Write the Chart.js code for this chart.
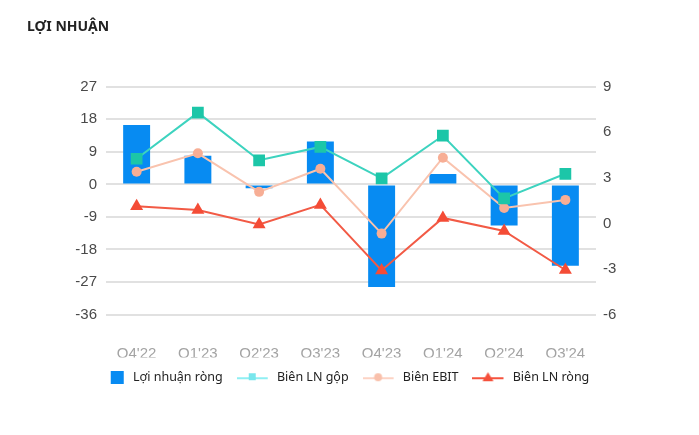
<!DOCTYPE html>
<html>
<head>
<meta charset="utf-8">
<script src="https://cdn.jsdelivr.net/npm/chart.js@4/dist/chart.umd.min.js"></script>
<style>
  html, body { margin: 0; padding: 0; background: #ffffff; }
  #wrap { width: 699px; height: 435px; position: relative; }
</style>
</head>
<body>
<div id="wrap"><canvas id="c" width="699" height="435"></canvas></div>
<script>
const categories = ["Q4'22", "Q1'23", "Q2'23", "Q3'23", "Q4'23", "Q1'24", "Q2'24", "Q3'24"];
const loiNhuanRong = [16.4, 7.9, -1.1, 11.9, -28.4, 2.9, -11.4, -22.5];
const bienLNGop = [4.26, 7.30, 4.16, 5.04, 2.97, 5.78, 1.65, 3.27];
const bienEBIT = [3.40, 4.62, 2.08, 3.60, -0.67, 4.33, 1.02, 1.55];
const bienLNRong = [1.13, 0.89, -0.07, 1.22, -3.10, 0.36, -0.50, -3.07];
const seriesNames = ["Lợi nhuận ròng", "Biên LN gộp", "Biên EBIT", "Biên LN ròng"];
const leftTicks = { min: -36, max: 27, step: 9 };
const rightTicks = { min: -6, max: 9, step: 3 };

const BLUE = '#078bf2';
const TEAL = '#3dd3bf', TEAL_PT = '#1cc6a8';
const PEACH = '#f9c3ae', PEACH_PT = '#f7ae95';
const RED = '#f25a45', RED_PT = '#f44c36';

function legendImg(kind) {
  const c = document.createElement('canvas');
  c.width = 34; c.height = 13;
  const g = c.getContext('2d');
  if (kind === 0) {
    g.fillStyle = BLUE;
    g.fillRect(18, 0, 13, 13);
    return c;
  }
  const lineCol = kind === 1 ? '#8feff3' : kind === 2 ? '#fcd3c4' : '#f5533e';
  g.strokeStyle = lineCol; g.lineWidth = 2;
  g.beginPath(); g.moveTo(0, 7); g.lineTo(31, 7); g.stroke();
  const cx = 15.5, cy = 7;
  if (kind === 1) {
    g.fillStyle = '#78e6ec';
    g.fillRect(cx - 3.5, cy - 5, 7, 7);
  } else if (kind === 2) {
    g.fillStyle = '#f9c0ab';
    g.beginPath(); g.arc(cx, cy - 1, 4, 0, Math.PI * 2); g.fill();
  } else {
    g.fillStyle = '#f5503b';
    g.beginPath(); g.moveTo(cx, cy - 6); g.lineTo(cx + 5.5, cy + 3); g.lineTo(cx - 5.5, cy + 3); g.closePath(); g.fill();
  }
  return c;
}
const legendImgs = [0, 1, 2, 3].map(legendImg);

const cfg = {
  type: 'bar',
  data: {
    labels: categories,
    datasets: [
      {
        type: 'bar', label: seriesNames[0], data: loiNhuanRong, yAxisID: 'y',
        backgroundColor: BLUE, borderWidth: 0, order: 10,
        categoryPercentage: 1.0, barPercentage: 0.44
      },
      {
        type: 'line', label: seriesNames[1], data: bienLNGop, yAxisID: 'y1',
        borderColor: TEAL, borderWidth: 2, pointStyle: 'rect', pointRadius: 8.3,
        pointBackgroundColor: TEAL_PT, pointBorderColor: TEAL_PT, pointBorderWidth: 0,
        tension: 0, order: 1
      },
      {
        type: 'line', label: seriesNames[2], data: bienEBIT, yAxisID: 'y1',
        borderColor: PEACH, borderWidth: 2, pointStyle: 'circle', pointRadius: 5,
        pointBackgroundColor: PEACH_PT, pointBorderColor: PEACH_PT, pointBorderWidth: 0,
        tension: 0, order: 2
      },
      {
        type: 'line', label: seriesNames[3], data: bienLNRong, yAxisID: 'y1',
        borderColor: RED, borderWidth: 2, pointStyle: 'triangle', pointRadius: 7.5,
        pointBackgroundColor: RED_PT, pointBorderColor: RED_PT, pointBorderWidth: 0,
        tension: 0, order: 0
      }
    ]
  },
  options: {
    responsive: false,
    animation: false,
    devicePixelRatio: 1,
    layout: { padding: { top: 19, left: 27, right: 44, bottom: 41 } },
    plugins: {
      tooltip: { enabled: false },
      title: {
        display: true, text: 'LỢI NHUẬN', align: 'start', color: '#222222',
        font: { family: "'Noto Sans', 'Open Sans', sans-serif", size: 14, weight: 'bold' },
        padding: { top: 0, bottom: 51 }
      },
      legend: {
        display: true, position: 'bottom', align: 'center',
        labels: {
          usePointStyle: true, pointStyleWidth: 34, boxHeight: 13, padding: 14,
          color: '#222222',
          font: { family: "'Noto Sans', 'Open Sans', sans-serif", size: 12.5 },
          generateLabels: (chart) => seriesNames.map((name, i) => ({
            text: name, pointStyle: legendImgs[i], datasetIndex: i,
            fillStyle: 'rgba(0,0,0,0)', strokeStyle: 'rgba(0,0,0,0)', lineWidth: 0,
            hidden: false, fontColor: '#222222'
          }))
        }
      }
    },
    scales: {
      x: {
        grid: { display: false, drawTicks: false },
        border: { display: false },
        ticks: { color: '#a3a3a3', padding: 30, font: { family: "'Liberation Sans', Arial, sans-serif", size: 15 }, maxRotation: 0 },
        afterFit: (s) => { s.height = 43; }
      },
      y: {
        position: 'left', min: leftTicks.min, max: leftTicks.max,
        grid: { color: '#e1e1e1', lineWidth: 2, drawTicks: false },
        border: { display: false },
        ticks: { stepSize: leftTicks.step, color: '#4a4a4a', padding: 9, font: { family: "'Liberation Sans', Arial, sans-serif", size: 15 } },
        afterFit: (s) => { s.width = 79; }
      },
      y1: {
        position: 'right', min: rightTicks.min, max: rightTicks.max,
        grid: { drawOnChartArea: false, drawTicks: false },
        border: { display: false },
        ticks: { stepSize: rightTicks.step, color: '#4a4a4a', padding: 7, font: { family: "'Liberation Sans', Arial, sans-serif", size: 15 } },
        afterFit: (s) => { s.width = 59; }
      }
    }
  }
};
new Chart(document.getElementById('c'), cfg);
</script>
</body>
</html>
